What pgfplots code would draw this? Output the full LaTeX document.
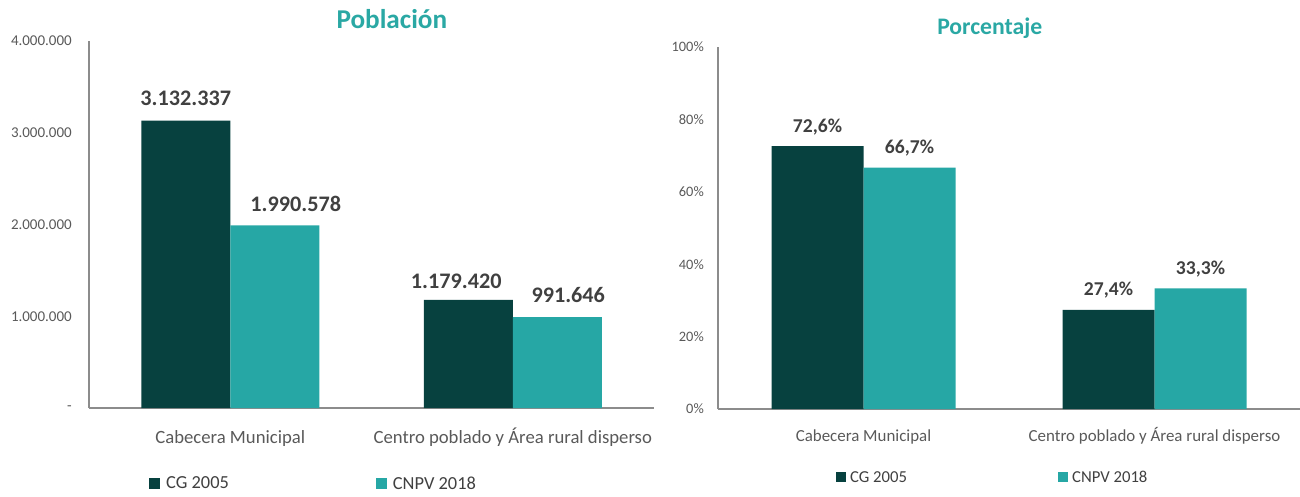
\documentclass[border=0pt]{standalone}
\usepackage{fontspec}
\setmainfont{Carlito}
\usepackage{pgfplots}
\usepackage{pgfplotstable}
\pgfplotsset{compat=1.18}
\definecolor{cgdark}{HTML}{07413F}
\definecolor{cnteal}{HTML}{26A7A5}
\definecolor{titlec}{HTML}{2AA8A4}
\definecolor{axisgray}{HTML}{8C8C8C}
\definecolor{ticktext}{HTML}{595959}
\definecolor{labtext}{HTML}{404040}
\pgfplotstableread{
x y lab dx dy
0 3132337 3.132.337 0 15
1 1179420 1.179.420 -12 11
}\cgpob
\pgfplotstableread{
x y lab dx dy
0 1990578 1.990.578 21 14
1 991646 991.646 11 15
}\cnpob
\pgfplotsset{
  common/.style={
    scale only axis, anchor=south west,
    xmin=-0.5, xmax=1.5, ymin=0,
    axis x line*=bottom, axis y line*=left,
    axis line style={draw=axisgray, line width=1.4pt, -},
    major tick length=0pt,
    scaled y ticks=false,
    xtick={0,1},
    xticklabels={Cabecera Municipal, Centro poblado y Área rural disperso},
    ybar=0pt,
    point meta=explicit symbolic,
    nodes near coords,
    clip=false,
    legend columns=2,
    legend cell align=left,
    every axis title shift=0pt,
  },
}
\begin{document}
\begin{tikzpicture}
\useasboundingbox (0,0) rectangle (1300pt,496pt);
% ---------------- left: Poblacion
\begin{axis}[common,
  at={(89pt,88pt)}, width=565pt, height=367pt,
  ymax=4000000,
  ytick={0,1000000,2000000,3000000,4000000},
  yticklabels={-,1.000.000,2.000.000,3.000.000,4.000.000},
  yticklabel style={font=\fontsize{15}{18}\selectfont, text=ticktext, anchor=east, inner sep=0pt, xshift=-17pt},
  xticklabel style={font=\fontsize{18.7}{22}\selectfont, text=ticktext, anchor=base, inner sep=0pt, yshift=-35pt},
  bar width=89pt,
  visualization depends on={\thisrow{dx} \as \dx},
  visualization depends on={\thisrow{dy} \as \dy},
  every node near coord/.append style={font=\bfseries\fontsize{22.2}{26}\selectfont, text=labtext, anchor=base, inner sep=0pt, xshift=\dx pt, yshift=\dy pt},
  title={Población},
  title style={font=\bfseries\fontsize{27.2}{30}\selectfont, text=titlec, at={(axis description cs:0.536,1.0327)}, anchor=base, inner sep=0pt},
  legend style={draw=none, fill=none, inner sep=0pt, nodes={inner sep=0pt}, font=\fontsize{18.4}{22}\selectfont, text=labtext,
    at={(axis description cs:0.1062,-0.2057)}, anchor=west,
    /tikz/every odd column/.append style={column sep=6pt},
    /tikz/every even column/.append style={column sep=147pt}},
]
\addplot[fill=cgdark, draw=none, legend image code/.code={\fill[cgdark] (0pt,-5.5pt) rectangle (11pt,5.5pt);}]
  table[x=x, y=y, meta=lab] {\cgpob};
\addplot[fill=cnteal, draw=none, legend image code/.code={\fill[cnteal] (0pt,-5.5pt) rectangle (11pt,5.5pt);}]
  table[x=x, y=y, meta=lab] {\cnpob};
\legend{CG 2005, CNPV 2018}
\end{axis}
% ---------------- right: Porcentaje
\begin{axis}[common,
  at={(718pt,87pt)}, width=582pt, height=362pt,
  ymax=100,
  ytick={0,20,40,60,80,100},
  yticklabels={0\%,20\%,40\%,60\%,80\%,100\%},
  yticklabel style={font=\fontsize{14.4}{17}\selectfont, text=ticktext, anchor=east, inner sep=0pt, xshift=-14pt},
  xticklabel style={font=\fontsize{16.9}{20}\selectfont, text=ticktext, anchor=base, inner sep=0pt, yshift=-32pt},
  bar width=92pt,
  every node near coord/.append style={font=\bfseries\fontsize{19.6}{24}\selectfont, text=labtext, anchor=base, inner sep=0pt, yshift=14pt},
  title={Porcentaje},
  title style={font=\bfseries\fontsize{23.7}{28}\selectfont, text=titlec, at={(axis description cs:0.467,1.0359)}, anchor=base, inner sep=0pt},
  legend style={draw=none, fill=none, inner sep=0pt, nodes={inner sep=0pt}, font=\fontsize{16.7}{20}\selectfont, text=labtext,
    at={(axis description cs:0.2027,-0.1892)}, anchor=west,
    /tikz/every odd column/.append style={column sep=4pt},
    /tikz/every even column/.append style={column sep=151pt}},
]
\addplot[fill=cgdark, draw=none, legend image code/.code={\fill[cgdark] (0pt,-5pt) rectangle (10pt,5pt);}]
  coordinates {(0,72.6) [{72,6\%}] (1,27.4) [{27,4\%}]};
\addplot[fill=cnteal, draw=none, legend image code/.code={\fill[cnteal] (0pt,-5pt) rectangle (10pt,5pt);}]
  coordinates {(0,66.7) [{66,7\%}] (1,33.3) [{33,3\%}]};
\legend{CG 2005, CNPV 2018}
\end{axis}
\end{tikzpicture}
\end{document}
